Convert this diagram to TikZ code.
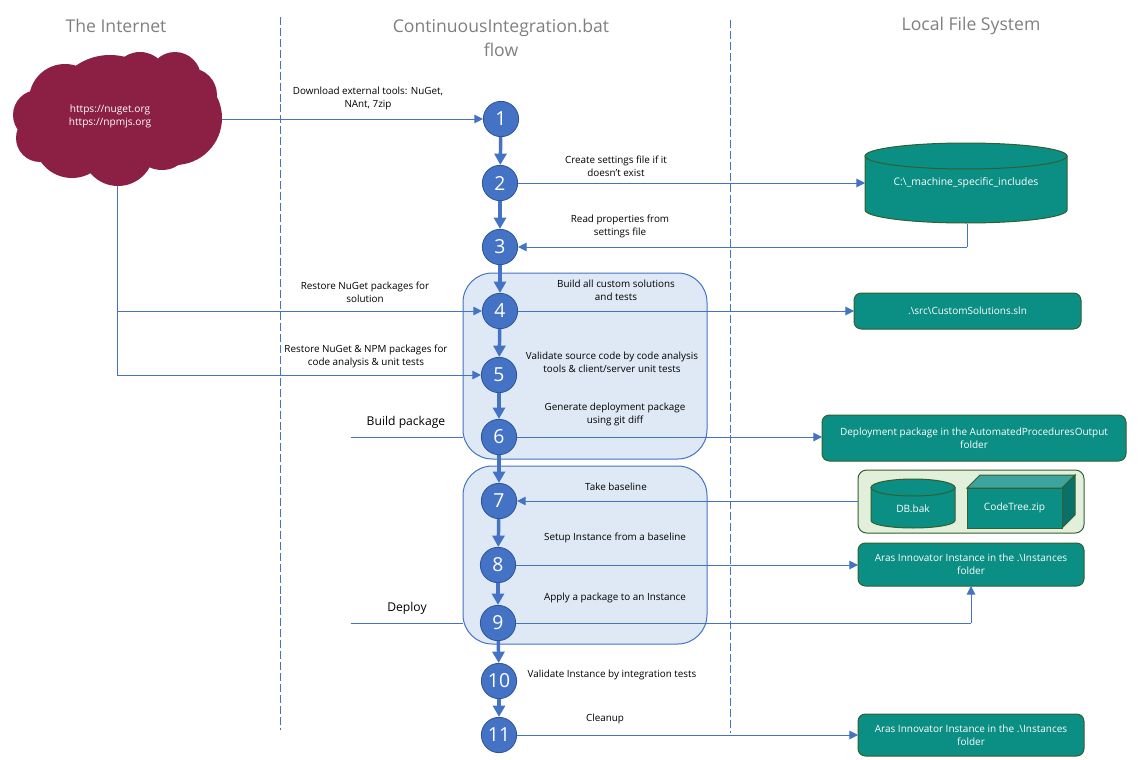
\documentclass[tikz,border=0pt]{standalone}
\usepackage{fontspec}
\setmainfont{Open Sans}
\usetikzlibrary{arrows.meta}
\definecolor{teal1}{HTML}{0B8E83}
\definecolor{tealedge}{HTML}{33602F}
\definecolor{blue1}{HTML}{4472C4}
\definecolor{blueedge}{HTML}{2F5597}
\definecolor{wine}{HTML}{8B2044}
\definecolor{pale}{HTML}{DEE9F5}
\definecolor{greenpale}{HTML}{E2EFDA}
\definecolor{hdr}{HTML}{7F7F7F}
\tikzset{
  size/.style 2 args={minimum width=#1*0.75pt,minimum height=#2*0.75pt,inner sep=0pt,outer sep=0pt},
  num/.style={circle,fill=blue1,draw=blueedge,line width=.6pt,text=white,minimum size=26.5pt,inner sep=0pt,font=\fontsize{14.5}{16}\selectfont},
  region/.style={draw=blue1,fill=pale,line width=.75pt,rounded corners=22pt},
  tbox/.style={draw=tealedge,fill=teal1,line width=.75pt,rounded corners=5.5pt,text=white,align=center,font=\fontsize{7.5}{9.8}\selectfont},
  tshape/.style={draw=tealedge,fill=teal1,line width=.75pt},
  lbl/.style={align=center,font=\fontsize{7.4}{9.8}\selectfont,text=black,inner sep=0pt},
  hd/.style={align=center,font=\fontsize{13.2}{18}\selectfont,text=hdr,inner sep=0pt},
  side/.style={font=\fontsize{9.1}{11}\selectfont,text=black,inner sep=0pt},
  thin arrow/.style={draw=blue1,line width=.75pt,-{Triangle[length=6.5pt,width=6.5pt]}},
  plain/.style={draw=blue1,line width=.75pt},
  thick arrow/.style={draw=blue1,line width=2.6pt,-{Triangle[length=8.5pt,width=9pt]}},
  vdash/.style={draw=blue1,line width=.75pt,dash pattern=on 6pt off 2.2pt},
}
\begin{document}
\begin{tikzpicture}[x=0.75pt,y=-0.75pt]
\useasboundingbox (0,0) rectangle (1140,760);
% headers
\node[hd] (hinternet) at (116,26) {The Internet};
\node[hd] (hflow) at (501,38) {ContinuousIntegration.bat\\flow};
\node[hd] (hlocal) at (971,26) {Local File System};
% divider lines
\coordinate (d1a) at (280,17); \coordinate (d1b) at (280,730);
\coordinate (d2a) at (730,20); \coordinate (d2b) at (730,733);
\draw[vdash] (d1a) -- (d1b);
\draw[vdash] (d2a) -- (d2b);
% regions
\node[region,size={244}{186}] (r1) at (585,366) {};
\node[region,size={244}{178}] (r2) at (585,555) {};
% cloud
\fill[wine] (38,115) circle (25) (65,100) circle (36) (103,90) circle (34)
  (140,80) circle (28) (175,78) circle (26) (190,95) circle (27)
  (175,118) circle (47) (162,140) circle (30) (118,150) circle (36)
  (72,140) circle (38) (40,138) circle (24) (110,115) circle (60);
\node[size={209}{134}] (cloud) at (117.5,119) {};
\node[text=white,align=center,inner sep=0pt,font=\fontsize{7.6}{9.8}\selectfont] (cloudtext) at (110,116) {https://nuget.org\\https://npmjs.org};
% numbered circles
\node[num] (n1) at (501,119) {1};
\node[num] (n2) at (500,183) {2};
\node[num] (n3) at (500,247) {3};
\node[num] (n4) at (500,311) {4};
\node[num] (n5) at (499,375) {5};
\node[num] (n6) at (499,437) {6};
\node[num] (n7) at (499,501) {7};
\node[num] (n8) at (498,565) {8};
\node[num] (n9) at (498,623) {9};
\node[num] (n10) at (499,681) {10};
\node[num] (n11) at (499,735) {11};
\foreach \a/\b in {n1/n2,n2/n3,n3/n4,n4/n5,n5/n6,n6/n7,n7/n8,n8/n9,n9/n10,n10/n11}
  \draw[thick arrow] (\a) -- (\b);
% cylinder
\draw[tshape] (865,156) -- (865,210) arc[start angle=180,end angle=0,x radius=101,y radius=13] -- (1067,156) -- cycle;
\draw[tshape] (966,156) ellipse[x radius=101,y radius=13];
\node[size={202}{81},text=white,font=\fontsize{7.8}{9.6}\selectfont] (cyl) at (966,183) {\raisebox{-5.2pt}{C:\textbackslash\_machine\_specific\_includes}};
% boxes
\node[tbox,size={227}{36}] (sln) at (967.5,311) {.\textbackslash src\textbackslash CustomSolutions.sln};
\node[tbox,size={304}{46}] (dep) at (974,438) {Deployment package in the AutomatedProceduresOutput\\folder};
\node[draw=tealedge,fill=greenpale,line width=.75pt,rounded corners=6.5pt,size={226}{63}] (group) at (971,501.5) {};
\node[tbox,size={226}{43}] (aras1) at (971,564.5) {Aras Innovator Instance in the .\textbackslash Instances\\folder};
\node[tbox,size={226}{42}] (aras2) at (971,735) {Aras Innovator Instance in the .\textbackslash Instances\\folder};
% DB cylinder
\draw[tshape] (871,487.5) -- (871,520.5) arc[start angle=180,end angle=0,x radius=42,y radius=7.5] -- (955,487.5) -- cycle;
\draw[tshape] (913,487.5) ellipse[x radius=42,y radius=8.5];
\node[size={84}{49},text=white,font=\fontsize{7.6}{9.6}\selectfont] (db) at (913,509) {DB.bak};
% cube
\fill[teal1!80!white,draw=tealedge,line width=.75pt] (967,488) -- (980,475) -- (1075,475) -- (1062,488) -- cycle;
\fill[teal1!80!black,draw=tealedge,line width=.75pt] (1062,488) -- (1075,475) -- (1075,515) -- (1062,528) -- cycle;
\node[tshape,size={95}{40},text=white,font=\fontsize{7.6}{9.6}\selectfont] (cube) at (1014.5,508) {CodeTree.zip};
% connectors
\draw[thin arrow] (cloud.east |- n1) -- (n1);
\draw[thin arrow] (n2) -- (cyl.west |- n2);
\coordinate (c3) at (967,247);
\draw[plain] (cyl.south -| c3) -- (c3);
\draw[thin arrow] (c3) -- (n3);
\coordinate (ca) at (117,311);
\coordinate (cb) at (117,375);
\draw[plain] (cloud.south -| ca) -- (cb);
\draw[thin arrow] (ca) -- (n4);
\draw[thin arrow] (cb) -- (n5);
\draw[thin arrow] (n4) -- (sln.west |- n4);
\draw[thin arrow] (n6) -- (dep.west |- n6);
\coordinate (b1) at (351,437);
\draw[plain] (b1) -- (r1.west |- b1);
\coordinate (b2) at (351,623);
\draw[plain] (b2) -- (r2.west |- b2);
\draw[thin arrow] (group.west |- n7) -- (n7);
\draw[thin arrow] (n8) -- (aras1.west |- n8);
\coordinate (c9) at (971,623);
\draw[plain] (n9) -- (c9);
\draw[thin arrow] (c9) -- (aras1.south -| c9);
\draw[thin arrow] (n11) -- (aras2.west);
% labels
\node[lbl] (l1) at (368,98) {Download external tools: NuGet,\\NAnt, 7zip};
\node[lbl] (l2) at (616,166) {Create settings file if it\\doesn’t exist};
\node[lbl] (l3) at (620,226) {Read properties from\\settings file};
\node[lbl] (l4) at (365,292) {Restore NuGet packages for\\solution};
\node[lbl] (l5) at (366,356) {Restore NuGet \& NPM packages for\\code analysis \& unit tests};
\node[lbl] (l6) at (616,290) {Build all custom solutions\\and tests};
\node[lbl] (l7) at (612,362) {Validate source code by code analysis\\tools \& client/server unit tests};
\node[lbl] (l8) at (615,414) {Generate deployment package\\using git diff};
\node[lbl] (l9) at (616,487) {Take baseline};
\node[lbl] (l10) at (615,538) {Setup Instance from a baseline};
\node[lbl] (l11) at (615,598) {Apply a package to an Instance};
\node[lbl] (l12) at (612,675) {Validate Instance by integration tests};
\node[lbl] (l13) at (605,719) {Cleanup};
\node[side] (s1) at (406,422) {Build package};
\node[side] (s2) at (407,608) {Deploy};
\end{tikzpicture}
\end{document}
